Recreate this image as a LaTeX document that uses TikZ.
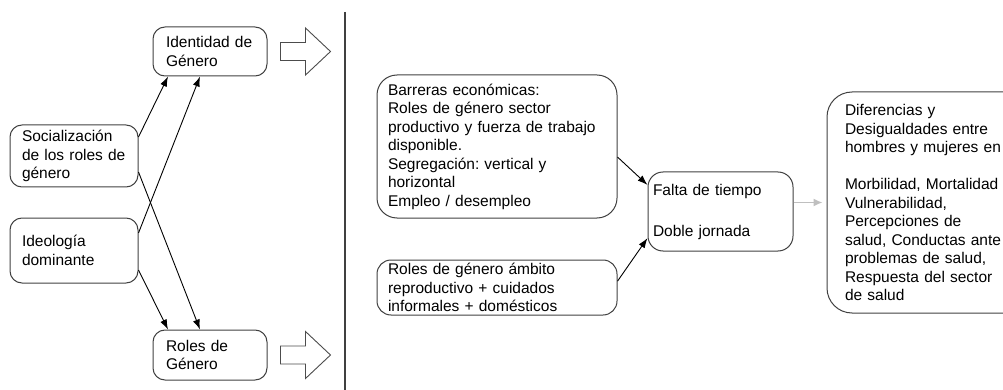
\documentclass[tikz,border=0pt]{standalone}
\usepackage{fontspec}
\setmainfont{Liberation Sans}
\usetikzlibrary{arrows.meta, positioning, calc}
\frenchspacing

\begin{document}
\begin{tikzpicture}[x=1pt, y=-1pt, >={Latex[length=10pt,width=7pt]},
        font=\fontsize{15.5}{18.5}\selectfont,
        box/.style={draw=black!75, line width=1pt, rounded corners=12pt, align=left, inner ysep=0pt},
        link/.style={->, black, line width=0.9pt},
        blockarrow/.pic={\draw[black!70, line width=0.9pt, fill=white]
            (0,-9) -- (25,-9) -- (25,-23.5) -- (50,0) -- (25,23.5) -- (25,9) -- (0,9) -- cycle;}]
        \clip (0,0) rectangle (1003,390);
        \node[box, text width=88pt, inner xsep=13pt, minimum height=49pt] (ident) at (210,51.5) {Identidad de\\Género};
        \node[box, text width=88pt, inner xsep=13pt, minimum height=50pt] (roles) at (210,355) {Roles de\\Género};
        \node[box, text width=104pt, inner xsep=12pt, minimum height=62pt] (social) at (74,156) {Socialización\\de los roles de\\género};
        \node[box, text width=104pt, inner xsep=12pt, minimum height=65pt] (ideol) at (74,250.5) {Ideología\\dominante};
        \node[box, text width=218pt, inner xsep=11pt, minimum height=143pt, rounded corners=20pt] (barr) at (497,146.5)
            {Barreras económicas:\\Roles de género sector\\productivo y fuerza de trabajo\\disponible.\\Segregación: vertical y\\horizontal\\Empleo / desempleo};
        \node[box, text width=218pt, inner xsep=11pt, minimum height=55pt, rounded corners=14pt] (amb) at (497,287.5)
            {Roles de género ámbito\\reproductivo + cuidados\\informales + domésticos};
        \node[box, text width=135pt, inner xsep=5pt, minimum height=79pt, rounded corners=15pt] (falta) at (720.5,211.5)
            {Falta de tiempo\\[22.5pt]Doble jornada};
        \node[box, text width=167pt, inner xsep=18pt, minimum height=221pt, rounded corners=25pt] (dif) at (928.5,202.5)
            {Diferencias y\\Desigualdades entre\\hombres y mujeres en\\[18.5pt]Morbilidad, Mortalidad\\Vulnerabilidad,\\Percepciones de\\salud, Conductas ante\\problemas de salud,\\Respuesta del sector\\de salud};

        \pic at ([xshift=13pt]ident.east) {blockarrow};
        \pic at ([xshift=13pt]roles.east) {blockarrow};
        \draw[black!75, line width=1.2pt] (345,12) -- (345,390);

        \path[link]
        ([yshift=19pt]social.east) edge ([xshift=-42pt]ident.south)
        ([yshift=-16pt]social.east) edge ([xshift=-10pt]roles.north)
        ([yshift=17.5pt]ideol.east) edge ([xshift=-10pt]ident.south)
        ([yshift=-19.5pt]ideol.east) edge ([xshift=-42pt]roles.north)
        (barr.-5) edge (falta.160)
        (amb.3) edge (falta.200)
        ;
        \draw[->, black!25, line width=1.4pt, >={Latex[length=9pt,width=8pt]}, shorten >=4pt]
            (falta.east |- dif.west) -- (dif.west);
    \end{tikzpicture}
\end{document}
